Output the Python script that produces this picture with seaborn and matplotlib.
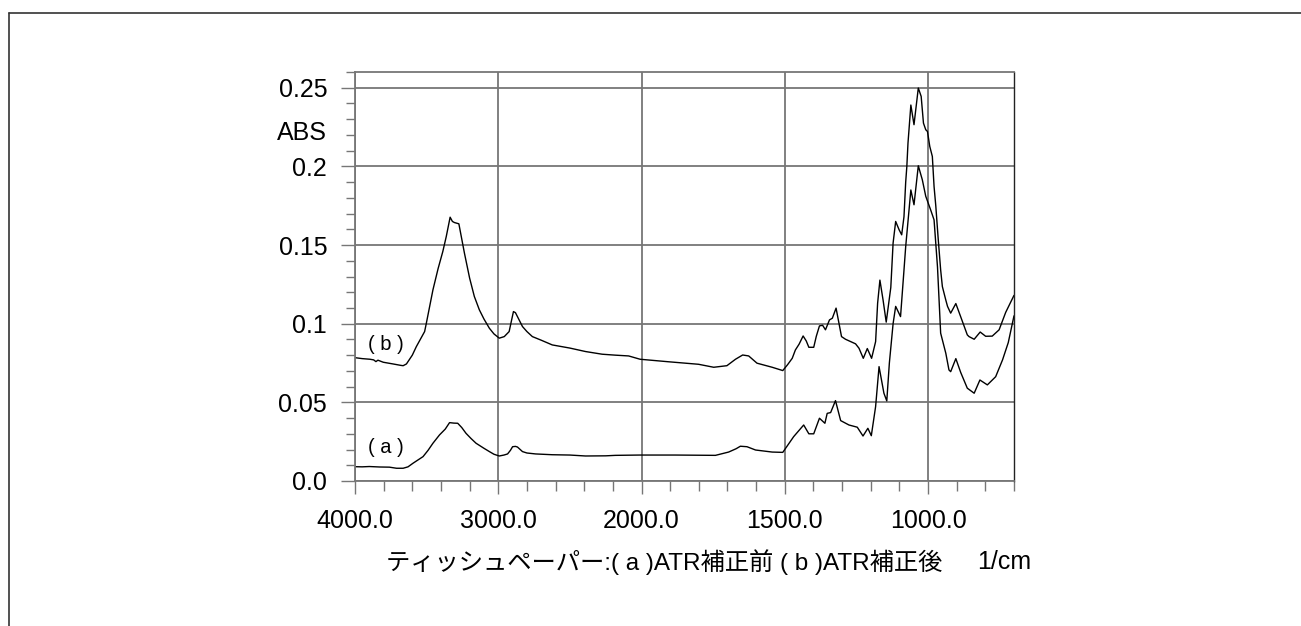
import numpy as np
import pandas as pd
import matplotlib
matplotlib.use("Agg")
import matplotlib.pyplot as plt
import matplotlib.ticker as mticker
from matplotlib.lines import Line2D
from matplotlib.transforms import blended_transform_factory
import seaborn as sns

# ---------------- data ----------------
wn_b = [4000, 3950, 3896, 3870, 3854, 3840, 3803, 3734, 3680, 3664, 3641, 3600, 3572,
        3514, 3502, 3456, 3420, 3387, 3363, 3336, 3320, 3306, 3275, 3236, 3200, 3167,
        3132, 3100, 3062, 3030, 2993, 2958, 2924, 2910, 2894, 2880, 2866, 2831, 2800,
        2762, 2700, 2623, 2500, 2391, 2275, 2183, 2090, 2010, 1906, 1801, 1748, 1702,
        1672, 1647, 1626, 1597, 1544, 1507, 1490, 1474, 1463, 1450, 1436, 1425, 1416,
        1399, 1390, 1379, 1368, 1358, 1344, 1334, 1321, 1302, 1288, 1253, 1241, 1226,
        1212, 1197, 1183, 1176, 1168, 1157, 1146, 1130, 1122, 1113, 1101, 1092, 1084,
        1078, 1074, 1070, 1060, 1049, 1034, 1024, 1016, 1008, 1002, 994, 985, 979, 973,
        965, 956, 950, 938, 932, 921, 903, 880, 863, 857, 839, 818, 799, 776, 752, 729,
        700]
abs_b = [0.0784, 0.0778, 0.0774, 0.0770, 0.0759, 0.0768, 0.0755, 0.0744, 0.0735, 0.0733,
         0.0744, 0.0800, 0.0854, 0.0950, 0.1003, 0.1215, 0.1350, 0.1459, 0.1554, 0.1677,
         0.1650, 0.1643, 0.1635, 0.1448, 0.1290, 0.1173, 0.1088, 0.1030, 0.0971, 0.0935,
         0.0908, 0.0918, 0.0950, 0.1010, 0.1077, 0.1070, 0.1045, 0.0982, 0.0950, 0.0918,
         0.0895, 0.0865, 0.0845, 0.0823, 0.0806, 0.0800, 0.0795, 0.0774, 0.0758, 0.0742,
         0.0723, 0.0733, 0.0774, 0.0801, 0.0795, 0.0749, 0.0723, 0.0702, 0.0740, 0.0780,
         0.0833, 0.0870, 0.0922, 0.0890, 0.0850, 0.0850, 0.0920, 0.0986, 0.0990, 0.0961,
         0.1024, 0.1035, 0.1099, 0.0918, 0.0901, 0.0872, 0.0844, 0.0780, 0.0842, 0.0780,
         0.0886, 0.1130, 0.1277, 0.1151, 0.1010, 0.1230, 0.1512, 0.1650, 0.1597, 0.1565,
         0.1680, 0.1900, 0.2000, 0.2148, 0.2390, 0.2265, 0.2498, 0.2445, 0.2275, 0.2233,
         0.2222, 0.2127, 0.2063, 0.1872, 0.1750, 0.1550, 0.1342, 0.1236, 0.1150, 0.1110,
         0.1067, 0.1128, 0.1014, 0.0929, 0.0918, 0.0901, 0.0947, 0.0920, 0.0921, 0.0961,
         0.1072, 0.1180]

wn_a = [4000, 3950, 3900, 3826, 3760, 3710, 3664, 3630, 3595, 3525, 3490, 3456, 3410,
        3370, 3340, 3310, 3283, 3255, 3225, 3190, 3155, 3100, 3062, 3030, 2993, 2960,
        2935, 2915, 2900, 2880, 2866, 2831, 2800, 2739, 2623, 2500, 2391, 2250, 2183,
        2100, 2010, 1882, 1742, 1696, 1670, 1655, 1632, 1602, 1544, 1507, 1469, 1434,
        1416, 1399, 1379, 1360, 1352, 1340, 1323, 1305, 1276, 1247, 1227, 1210, 1198,
        1183, 1171, 1154, 1144, 1135, 1122, 1113, 1096, 1084, 1078, 1060, 1049, 1034,
        1020, 1008, 991, 979, 967, 956, 938, 927, 921, 903, 886, 863, 839, 819, 793,
        764, 740, 720, 700]
abs_a = [0.0091, 0.0090, 0.0092, 0.0089, 0.0088, 0.0081, 0.0081, 0.0090, 0.0113, 0.0155,
         0.0195, 0.0240, 0.0293, 0.0330, 0.0371, 0.0368, 0.0367, 0.0340, 0.0303, 0.0270,
         0.0240, 0.0208, 0.0187, 0.0170, 0.0159, 0.0165, 0.0172, 0.0195, 0.0218, 0.0220,
         0.0216, 0.0187, 0.0178, 0.0172, 0.0167, 0.0165, 0.0159, 0.0160, 0.0163, 0.0164,
         0.0165, 0.0165, 0.0163, 0.0184, 0.0205, 0.0221, 0.0218, 0.0197, 0.0184, 0.0182,
         0.0282, 0.0356, 0.0300, 0.0300, 0.0399, 0.0367, 0.0430, 0.0435, 0.0511, 0.0384,
         0.0356, 0.0342, 0.0286, 0.0335, 0.0288, 0.0473, 0.0727, 0.0558, 0.0509, 0.0750,
         0.1000, 0.1110, 0.1045, 0.1340, 0.1490, 0.1850, 0.1756, 0.2004, 0.1915, 0.1810,
         0.1724, 0.1660, 0.1360, 0.0940, 0.0812, 0.0706, 0.0695, 0.0778, 0.0690, 0.0590,
         0.0558, 0.0642, 0.0611, 0.0663, 0.0770, 0.0880, 0.1050]

x_ticks = [4000, 3000, 2000, 1500, 1000]
x_ticklabels = ["4000.0", "3000.0", "2000.0", "1500.0", "1000.0"]
y_ticks = [0.0, 0.05, 0.1, 0.15, 0.2, 0.25]
y_ticklabels = ["0.0", "0.05", "0.1", "0.15", "0.2", "0.25"]
series_labels = ["( a )", "( b )"]
xlabel_text = "ティッシュペーパー:( a )ATR補正前 ( b )ATR補正後"
unit_text = "1/cm"
ylabel_text = "ABS"

df = pd.concat([
    pd.DataFrame({"wn": wn_a, "abs": abs_a, "series": "a"}),
    pd.DataFrame({"wn": wn_b, "abs": abs_b, "series": "b"}),
], ignore_index=True)

# ---------------- style ----------------
sns.set_theme(style="white")
FONTS = ["Liberation Sans", "Noto Sans CJK JP", "DejaVu Sans"]
plt.rcParams["font.family"] = FONTS

W, H = 1301, 626
fig = plt.figure(figsize=(W / 100, H / 100), dpi=100)
ax = fig.add_axes([355 / W, 1 - 481 / H, (1014 - 355) / W, (481 - 72) / H])


def fwd(x):
    x = np.asarray(x, dtype=float)
    return np.where(x > 2000, 2000 + (x - 2000) / 2.0, x)


def inv(y):
    y = np.asarray(y, dtype=float)
    return np.where(y > 2000, 2000 + (y - 2000) * 2.0, y)


ax.set_xscale("function", functions=(fwd, inv))

for s in ["a", "b"]:
    sns.lineplot(data=df[df.series == s], x="wn", y="abs", ax=ax, color="black",
                 linewidth=1.0, estimator=None, sort=False, legend=False)

ax.set_xlim(4000, 700)
ax.set_ylim(0, 0.26)

ax.xaxis.set_major_locator(mticker.FixedLocator(x_ticks))
ax.xaxis.set_major_formatter(mticker.FixedFormatter(x_ticklabels))
minor_x = list(range(3800, 2000, -200)) + list(range(1900, 699, -100))
minor_x = [m for m in minor_x if m not in x_ticks]
ax.xaxis.set_minor_locator(mticker.FixedLocator(minor_x))
ax.yaxis.set_major_locator(mticker.FixedLocator(y_ticks))
ax.yaxis.set_major_formatter(mticker.FixedFormatter(y_ticklabels))
ax.yaxis.set_minor_locator(mticker.FixedLocator([i / 100 for i in range(0, 27) if i % 5 != 0]))

grid_color = "#767676"
ax.grid(True, which="major", color=grid_color, linewidth=1.3)
ax.set_axisbelow(True)
for side in ["left", "bottom", "top"]:
    ax.spines[side].set_color(grid_color)
    ax.spines[side].set_linewidth(1.3)
ax.spines["right"].set_color("#222222")
ax.spines["right"].set_linewidth(1.0)

ax.tick_params(axis="both", which="both", direction="out", color=grid_color, width=1.0)
ax.tick_params(axis="y", which="major", length=10, pad=10, labelsize=18, labelcolor="black")
ax.tick_params(axis="y", which="minor", length=6.5)
ax.tick_params(axis="x", which="major", length=9, pad=11, labelsize=18, labelcolor="black")
ax.tick_params(axis="x", which="minor", length=7)
ax.tick_params(left=True, bottom=True, which="both")
ax.set_xlabel("")
ax.set_ylabel("")

# "ABS" label next to the y tick labels
tr = blended_transform_factory(fig.transFigure, ax.transData)
ax.text(327 / W, 0.2214, ylabel_text, transform=tr, ha="right", va="center",
        fontsize=18, color="black")

# series labels
ax.text(3910, 0.0865, series_labels[1], ha="left", va="center", fontsize=14.5, color="black")
ax.text(3910, 0.0216, series_labels[0], ha="left", va="center", fontsize=14.5, color="black")

# x label
fig.text(386 / W, 1 - 562 / H, xlabel_text, ha="left", va="center", fontsize=17.5,
         color="black", family=FONTS)
fig.text(1031 / W, 1 - 562 / H, unit_text, ha="right", va="center", fontsize=18,
         color="black", family=FONTS)

# outer frame lines
fig.add_artist(Line2D([9 / W, 1.0], [1 - 13 / H, 1 - 13 / H], transform=fig.transFigure,
                      color="#333333", linewidth=1.2))
fig.add_artist(Line2D([9 / W, 9 / W], [1 - 13 / H, 0.0], transform=fig.transFigure,
                      color="#333333", linewidth=1.2))

fig.savefig("out.png", dpi=100, facecolor="white")
